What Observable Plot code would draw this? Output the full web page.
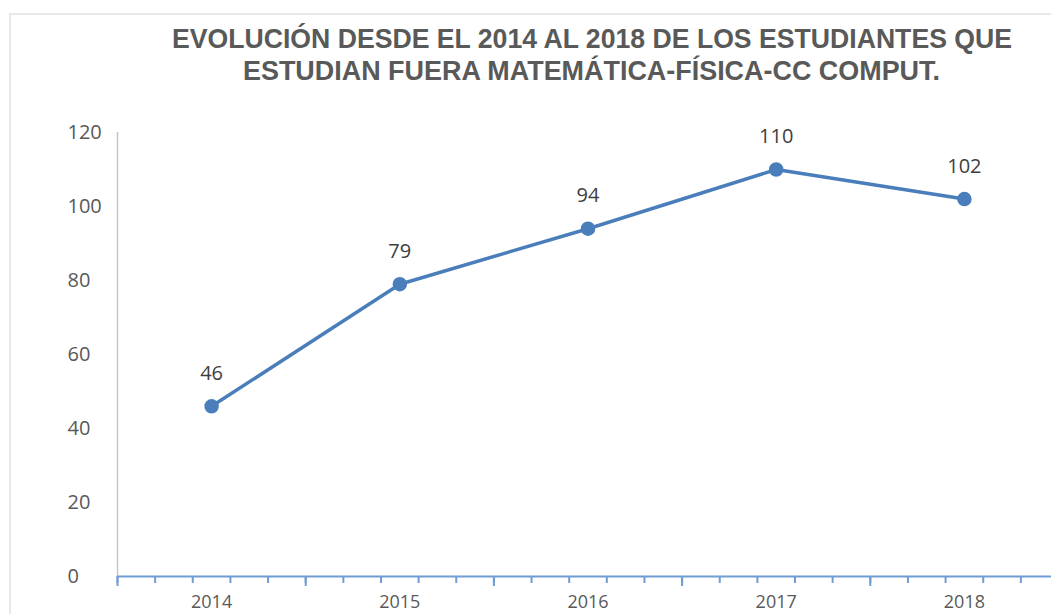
<!DOCTYPE html>
<html>
<head>
<meta charset="utf-8">
<script src="https://cdn.jsdelivr.net/npm/d3@7"></script>
<script src="https://cdn.jsdelivr.net/npm/@observablehq/plot@0.6"></script>
<style>
  html, body { margin: 0; padding: 0; background: #fff; }
  #wrap { position: relative; width: 1051px; height: 614px; overflow: hidden; }
  #frame { position: absolute; left: 9px; top: 13px; width: 1060px; height: 620px;
           border-top: 2px solid #e8e8e8; border-left: 2px solid #e8e8e8; pointer-events: none; }
  #title { display: block; overflow: visible; }
  #chart svg { display: block; }
</style>
</head>
<body>
<div id="wrap">
  <div id="frame"></div>
  <svg id="title" width="1051" height="110"></svg>
  <div id="chart"></div>
</div>
<script>
const titleLines = [
  "EVOLUCIÓN DESDE EL 2014 AL 2018 DE LOS ESTUDIANTES QUE",
  "ESTUDIAN FUERA MATEMÁTICA-FÍSICA-CC COMPUT."
];
const years = ["2014", "2015", "2016", "2017", "2018"];
const students = [46, 79, 94, 110, 102];
const yTicks = [0, 20, 40, 60, 80, 100, 120];

// title
const tsvg = d3.select("#title");
const titleLayout = [
  {x: 592, y: 48, len: 840},
  {x: 591.5, y: 80, len: 697}
];
titleLines.forEach((t, i) => {
  tsvg.append("text")
    .attr("transform", `translate(${titleLayout[i].x},${titleLayout[i].y}) scale(1,1.1)`)
    .attr("text-anchor", "middle")
    .attr("textLength", titleLayout[i].len)
    .attr("lengthAdjust", "spacingAndGlyphs")
    .attr("font-family", "'Liberation Sans', Arial, sans-serif")
    .attr("font-weight", "bold")
    .attr("font-size", 25)
    .attr("fill", "#595959")
    .text(t);
});

const data = years.map((y, i) => ({i, year: y, value: students[i]}));
const n = years.length;
const majorTicks = d3.range(-0.5, n, 1);
const minorTicks = d3.range(0, n * 5 + 1).map(k => -0.5 + k / 5);

const lineColor = "#4a7ebb";
const axisColor = "#6f9dd4";
const font = "'Open Sans', 'Noto Sans', sans-serif";

const chart = Plot.plot({
  width: 1051,
  height: 504,
  marginTop: 22,
  marginBottom: 38,
  marginLeft: 117,
  marginRight: -7,
  style: {fontFamily: font, background: "transparent", overflow: "visible"},
  x: {type: "linear", domain: [-0.5, n - 0.5], label: null},
  y: {domain: [0, 120], axis: null, label: null},
  marks: [
    Plot.ruleX([-0.5], {y1: 0, y2: 120, stroke: "#c6c6c6", strokeWidth: 1.5}),
    Plot.axisX(minorTicks, {tickSize: 7, tickFormat: () => "", label: null, stroke: axisColor, strokeWidth: 2}),
    Plot.axisX(majorTicks, {tickSize: 10, tickFormat: () => "", label: null, stroke: axisColor, strokeWidth: 2}),
    Plot.ruleY([0], {stroke: axisColor, strokeWidth: 2}),
    Plot.text(yTicks, {y: d => d, frameAnchor: "left", dx: -50, textAnchor: "start",
      text: d => String(d), fontSize: 20, fill: "#595959"}),
    Plot.text(data, {x: "i", frameAnchor: "bottom", lineAnchor: "top", dy: 19,
      text: "year", fontSize: 18, fill: "#595959"}),
    Plot.line(data, {x: "i", y: "value", stroke: lineColor, strokeWidth: 3.5}),
    Plot.dot(data, {x: "i", y: "value", r: 6.5, fill: lineColor, stroke: lineColor}),
    Plot.text(data, {x: "i", y: "value", text: d => String(d.value), dy: -33,
      fontSize: 20, fill: "#404040"})
  ]
});
document.getElementById("chart").appendChild(chart);
</script>
</body>
</html>
